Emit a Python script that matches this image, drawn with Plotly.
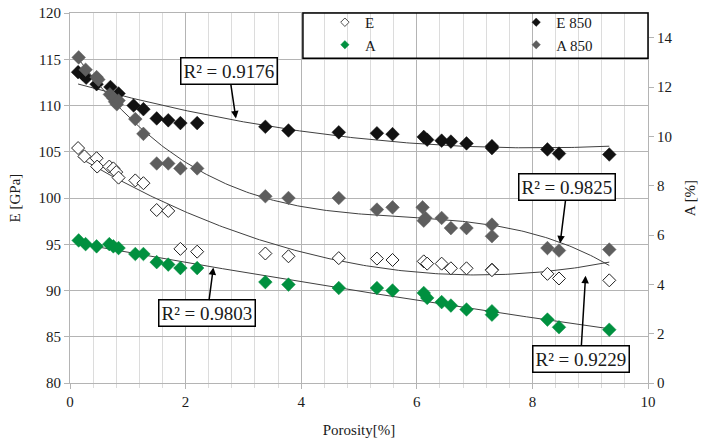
import numpy as np
import plotly.graph_objects as go

# ---------------- data ----------------
# E (hollow) [GPa]
e_x = [0.14, 0.25, 0.46, 0.47, 0.68, 0.75, 0.80, 0.84, 1.13, 1.27, 1.50, 1.70, 1.91, 2.20,
       3.38, 3.78, 4.65, 5.31, 5.58, 6.12, 6.18, 6.43, 6.59, 6.86, 7.30, 7.30, 8.26, 8.46, 9.33]
e_y = [105.4, 104.5, 104.3, 103.4, 103.4, 103.2, 102.8, 102.2, 101.9, 101.6, 98.7, 98.6, 94.5, 94.2,
       94.0, 93.7, 93.5, 93.45, 93.3, 93.15, 92.9, 92.9, 92.4, 92.4, 92.25, 92.2, 91.8, 91.3, 91.1]

# E 850 (black) [GPa]
e850_x = [0.14, 0.22, 0.28, 0.46, 0.70, 0.84, 1.10, 1.27, 1.50, 1.70, 1.91, 2.20,
          3.38, 3.78, 4.65, 5.31, 5.58, 6.12, 6.18, 6.43, 6.59, 6.86, 7.30, 7.30, 8.26, 8.46, 9.33]
e850_y = [113.6, 113.4, 113.0, 112.3, 112.0, 111.3, 110.0, 109.6, 108.6, 108.4, 108.1, 108.1,
          107.7, 107.3, 107.1, 107.0, 106.9, 106.6, 106.3, 106.2, 106.1, 105.9, 105.6, 105.4, 105.25, 104.8, 104.7]

# A (green) [%]
a_x = [0.15, 0.27, 0.46, 0.68, 0.75, 0.84, 1.13, 1.27, 1.50, 1.70, 1.91, 2.20,
       3.38, 3.78, 4.65, 5.31, 5.58, 6.12, 6.18, 6.43, 6.59, 6.86, 7.30, 7.30, 8.26, 8.46, 9.33]
a_y = [5.78, 5.63, 5.54, 5.63, 5.54, 5.47, 5.23, 5.23, 4.90, 4.80, 4.66, 4.66,
       4.09, 3.99, 3.85, 3.85, 3.75, 3.65, 3.45, 3.28, 3.14, 2.98, 2.91, 2.77, 2.57, 2.26, 2.16]

# A 850 (gray) [%]
a850_x = [0.15, 0.27, 0.46, 0.49, 0.69, 0.75, 0.78, 0.81, 0.84, 1.13, 1.27, 1.50, 1.70, 1.91, 2.20,
          3.38, 3.78, 4.65, 5.31, 5.58, 6.10, 6.12, 6.15, 6.43, 6.59, 6.86, 7.30, 7.30, 8.26, 8.46, 9.33]
a850_y = [13.2, 12.7, 12.4, 12.3, 11.7, 11.55, 11.4, 11.3, 11.45, 10.7, 10.1, 8.9, 8.9, 8.7, 8.7,
          7.57, 7.50, 7.50, 7.03, 7.12, 7.12, 6.58, 6.69, 6.69, 6.28, 6.28, 6.42, 5.95, 5.47, 5.37, 5.41]

r2_labels = ["R² = 0.9176", "R² = 0.9825", "R² = 0.9803", "R² = 0.9229"]

FONT = "Liberation Serif"
GREEN = "#00903f"
GRAY = "#5e5e5e"
BLACK = "#111111"
TREND = "#404040"
TXT = "#1a1a1a"

fig = go.Figure()


def trend(xs, ys, order):
    c = np.polyfit(xs, ys, order)
    xx = np.linspace(min(xs), max(xs), 200)
    return xx, np.polyval(c, xx)


# trendlines
for xs, ys, order, ax in [(e850_x, e850_y, 2, "y"), (e_x, e_y, 2, "y"),
                          (a850_x, a850_y, 3, "y2"), (a_x, a_y, 2, "y2")]:
    tx, ty = trend(xs, ys, order)
    fig.add_trace(go.Scatter(x=tx, y=ty, mode="lines", yaxis=ax, showlegend=False,
                             line=dict(color=TREND, width=1), hoverinfo="skip"))

series = [
    ("E", e_x, e_y, "y", "white", "#222222", 1.0, "legend"),
    ("A", a_x, a_y, "y2", GREEN, GREEN, 0.5, "legend"),
    ("E 850", e850_x, e850_y, "y", BLACK, BLACK, 0.5, "legend2"),
    ("A 850", a850_x, a850_y, "y2", GRAY, GRAY, 0.5, "legend2"),
]

# markers (data) + small legend symbols
for name, xs, ys, ax, fill, edge, lw, leg in series:
    fig.add_trace(go.Scatter(x=xs, y=ys, mode="markers", name=name, yaxis=ax, showlegend=False,
                             marker=dict(symbol="diamond", size=10.5 if fill != "white" else 10,
                                         color=fill, line=dict(color=edge, width=lw))))
    fig.add_trace(go.Scatter(x=[None], y=[None], mode="markers", name=name, yaxis=ax, legend=leg,
                             marker=dict(symbol="diamond", size=6.5, color=fill,
                                         line=dict(color=edge, width=0.8 if fill == "white" else 0.4))))

# R² annotations (arrow tip on the curve, box offset in px)
ann_pos = [(2.87, 108.6, -7, -47), (8.48, 95.1, 7, -56), (2.48, 92.5, -6, 46), (8.92, 91.6, -5, 83)]
for (x, y, axp, ayp), txt in zip(ann_pos, r2_labels):
    fig.add_annotation(x=x, y=y, xref="x", yref="y", ax=axp, ay=ayp, text=txt,
                       showarrow=True, arrowhead=2, arrowsize=1, arrowwidth=1.5,
                       arrowcolor="black", standoff=0, font=dict(family=FONT, size=19, color=TXT),
                       bgcolor="white", bordercolor="black", borderwidth=1.5, borderpad=2)

# legend frame
fig.add_shape(type="rect", xref="paper", yref="paper", x0=0.403, x1=1.0, y0=0.878, y1=1.0,
              line=dict(color="black", width=1.5), fillcolor="rgba(0,0,0,0)", layer="above")

grid_major = "#b4b4b4"
grid_minor = "#dcdcdc"

legend_common = dict(yanchor="top", xanchor="left", bgcolor="rgba(0,0,0,0)",
                     font=dict(family=FONT, size=15, color=TXT), tracegroupgap=0, borderwidth=0)

fig.update_layout(
    width=707, height=440,
    margin=dict(l=70, r=59, t=13, b=57, autoexpand=False),
    paper_bgcolor="white", plot_bgcolor="white",
    font=dict(family=FONT, size=15, color=TXT),
    showlegend=True,
    legend=dict(x=0.441, y=1.019, **legend_common),
    legend2=dict(x=0.772, y=1.019, **legend_common),
    xaxis=dict(range=[0, 10], dtick=2, tick0=0, showgrid=True, gridcolor=grid_major, gridwidth=1,
               zeroline=False, showline=True, linecolor=grid_major, mirror=True,
               ticks="outside", ticklen=5, tickcolor=grid_major,
               minor=dict(dtick=0.4, tick0=0, showgrid=True, gridcolor=grid_minor, ticks="outside",
                          ticklen=4, tickcolor=grid_minor),
               title=dict(text="Porosity[%]", font=dict(family=FONT, size=15), standoff=15)),
    yaxis=dict(range=[80, 120], dtick=5, showgrid=True, gridcolor=grid_major, zeroline=False,
               showline=True, linecolor=grid_major, mirror=True, ticks="outside", ticklen=5,
               tickcolor=grid_major,
               title=dict(text="E [GPa]", font=dict(family=FONT, size=15), standoff=14)),
    yaxis2=dict(range=[0, 15], dtick=2, tick0=0, overlaying="y", side="right", showgrid=False,
                zeroline=False, showline=False, ticks="outside", ticklen=5, tickcolor=grid_major,
                title=dict(text="A [%]", font=dict(family=FONT, size=15), standoff=12)),
)

fig.write_html("out.html")
